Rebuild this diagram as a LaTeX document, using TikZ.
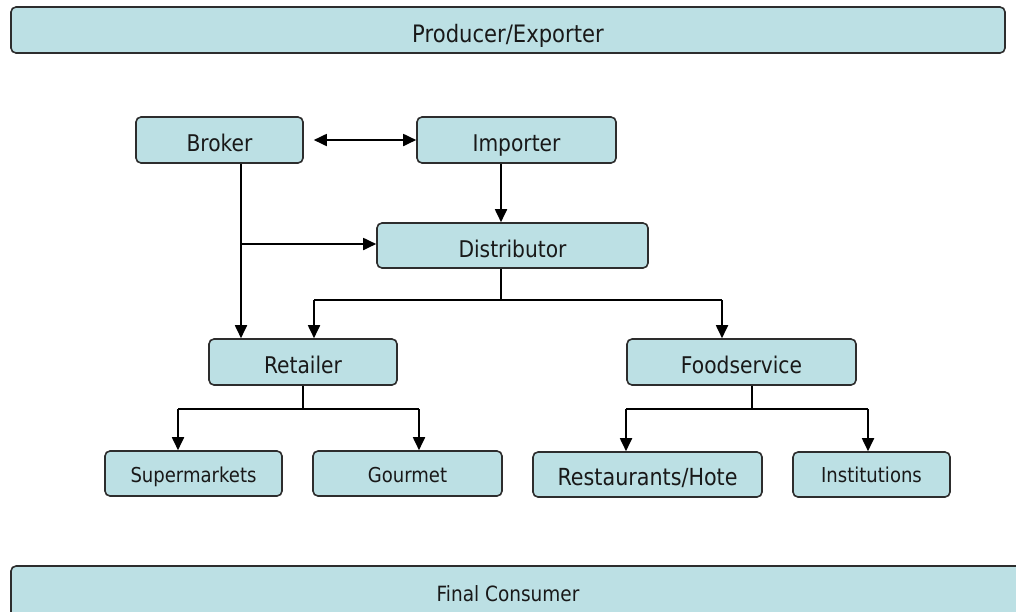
\documentclass[tikz,border=0pt]{standalone}
\usepackage{fontspec}
\setmainfont{DejaVu Sans}[FakeStretch=0.88]
\usetikzlibrary{arrows.meta}
\definecolor{boxfill}{RGB}{188,224,228}
\definecolor{boxline}{RGB}{45,45,45}
\definecolor{ink}{RGB}{25,25,25}

\begin{document}
\begin{tikzpicture}[x=1pt,y=-1pt,
  box/.style={draw=boxline, fill=boxfill, line width=1.6pt, rounded corners=5pt,
    inner sep=0pt, anchor=center, text=ink, font=\fontsize{23}{27}\selectfont,
    text height=23pt, text depth=0pt},
  smallbox/.style={box, font=\fontsize{20.5}{24}\selectfont, text height=17pt},
  label/.style={inner sep=0pt, text=ink, font=\fontsize{21}{25}\selectfont},
  link/.style={line width=1.8pt, draw=black},
  arr/.style={link, -{Triangle[length=13pt,width=12pt]}},
  dblarr/.style={link, {Triangle[length=13pt,width=12pt]}-{Triangle[length=13pt,width=12pt]}},
]
\useasboundingbox (0,0) rectangle (1016,611);
\begin{scope}
\clip (0,0) rectangle (1016,611);

% top and bottom bars
\node[box, font=\fontsize{24}{28}\selectfont, text height=24pt, minimum width=994pt, minimum height=46pt] (prod) at (508,30) {Producer/Exporter};
\node[box, minimum width=1019pt, minimum height=64pt] (consumer) at (520.5,598) {};
\node[label, anchor=base] (consumertext) at (508,601) {Final Consumer};

% first tier
\node[box, minimum width=167pt, minimum height=46pt] (broker) at (219.5,140) {Broker};
\node[box, minimum width=199pt, minimum height=46pt] (importer) at (516.5,140) {Importer};
\node[box, minimum width=271pt, minimum height=45pt] (distributor) at (512.5,245.5) {Distributor};

% channels
\node[box, text height=22pt, minimum width=188pt, minimum height=46pt] (retailer) at (303,362) {Retailer};
\node[box, text height=22pt, minimum width=229pt, minimum height=46pt] (foodservice) at (741.5,362) {Foodservice};

% outlets
\node[smallbox, minimum width=177pt, minimum height=45pt] (supermarkets) at (193.5,473.5) {Supermarkets};
\node[smallbox, minimum width=189pt, minimum height=45pt] (gourmet) at (407.5,473.5) {Gourmet};
\node[box, font=\fontsize{23.5}{27}\selectfont, text height=21pt, minimum width=229pt, minimum height=45pt] (restaurants) at (647.5,474.5) {Restaurants/Hote};
\node[smallbox, text height=15pt, minimum width=157pt, minimum height=45pt] (institutions) at (871.5,474.5) {Institutions};

% routing columns and rails
\coordinate (spine) at (501,0);
\coordinate (bline) at (241,0);
\coordinate (branchrail) at (0,244);
\coordinate (distrail) at (0,300);
\coordinate (retcol) at (314,0);
\coordinate (foodcol) at (722,0);
\coordinate (retrail) at (0,409);
\coordinate (supcol) at (178,0);
\coordinate (gourcol) at (419,0);
\coordinate (foodrail) at (0,409);
\coordinate (foodstem) at (752,0);
\coordinate (restcol) at (626,0);
\coordinate (instcol) at (868,0);

% broker <-> importer
\draw[dblarr, shorten <=10pt] (broker.east) -- (importer.west);

% importer -> distributor
\draw[arr] (importer.south -| spine) -- (distributor.north -| spine);

% broker -> retailer, with branch to distributor
\draw[arr] (broker.south -| bline) -- (retailer.north -| bline);
\draw[arr] (bline |- branchrail) -- (distributor.west |- branchrail);

% distributor -> retailer / foodservice
\draw[link] (distributor.south -| spine) -- (spine |- distrail);
\draw[link] (retcol |- distrail) -- (foodcol |- distrail);
\draw[arr] (retcol |- distrail) -- (retailer.north -| retcol);
\draw[arr] (foodcol |- distrail) -- (foodservice.north -| foodcol);

% retailer -> supermarkets / gourmet
\draw[link] (retailer.south) -- (retailer.south |- retrail);
\draw[link] (supcol |- retrail) -- (gourcol |- retrail);
\draw[arr] (supcol |- retrail) -- (supermarkets.north -| supcol);
\draw[arr] (gourcol |- retrail) -- (gourmet.north -| gourcol);

% foodservice -> restaurants / institutions
\draw[link] (foodservice.south -| foodstem) -- (foodstem |- foodrail);
\draw[link] (restcol |- foodrail) -- (instcol |- foodrail);
\draw[arr] (restcol |- foodrail) -- (restaurants.north -| restcol);
\draw[arr] (instcol |- foodrail) -- (institutions.north -| instcol);
\end{scope}
\end{tikzpicture}
\end{document}
